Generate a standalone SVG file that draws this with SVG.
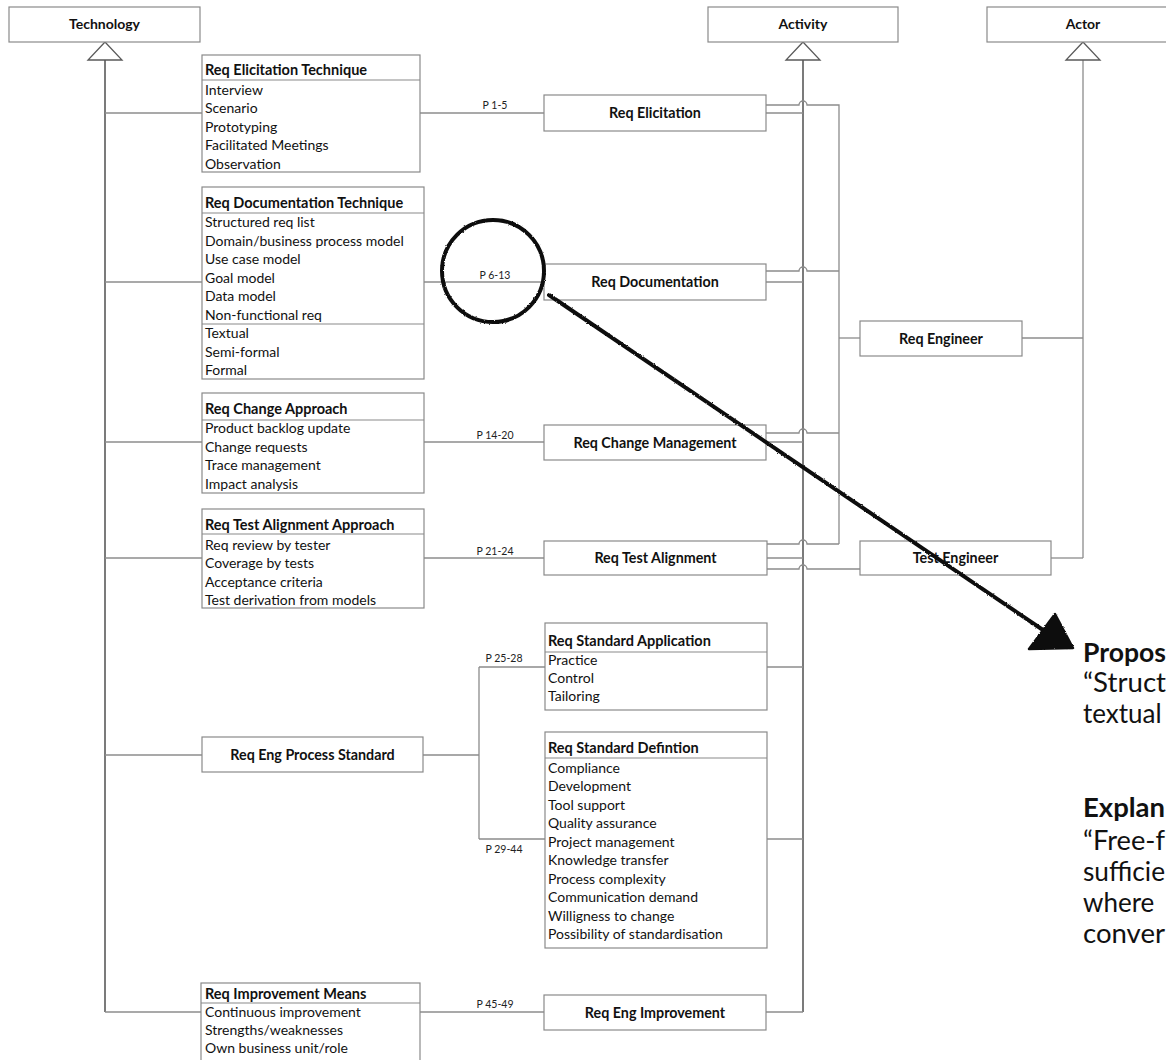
<svg xmlns="http://www.w3.org/2000/svg" width="1166" height="1060" viewBox="0 0 1166 1060">
  <style>
    .box { fill: #ffffff; stroke: #8a8a8a; stroke-width: 1.2; }
    .sep { stroke: #8a8a8a; stroke-width: 1.2; }
    .title { font-family: Lato, "Liberation Sans", sans-serif; font-weight: bold; font-size: 14px; fill: #111; text-anchor: middle; }
    .head { font-family: Lato, "Liberation Sans", sans-serif; font-weight: bold; font-size: 14.5px; fill: #111; }
    .item { font-family: Lato, "Liberation Sans", sans-serif; font-size: 14px; fill: #111; }
    .act { font-family: Lato, "Liberation Sans", sans-serif; font-weight: bold; font-size: 14.3px; fill: #111; text-anchor: middle; }
    .lbl { font-family: Lato, "Liberation Sans", sans-serif; font-size: 10.5px; fill: #222; text-anchor: middle; }
    .wire { fill: none; stroke: #8c8c8c; stroke-width: 1.3; }
    .spine { fill: none; stroke: #5a5a5a; stroke-width: 1.6; }
    .tri { fill: #ffffff; stroke: #5a5a5a; stroke-width: 1.3; }
    .ink { fill: none; stroke: #111; stroke-width: 4; stroke-linecap: round; }
    .note { font-family: Lato, "Liberation Sans", sans-serif; font-size: 26px; fill: #111; }
    .noteb { font-family: Lato, "Liberation Sans", sans-serif; font-size: 26px; font-weight: bold; fill: #111; }
  </style>

  <defs>
    <!-- slightly ragged edge for the marker-pen strokes -->
    <filter id="rough" x="-5%" y="-5%" width="110%" height="110%">
      <feTurbulence type="fractalNoise" baseFrequency="0.9" numOctaves="1" seed="3" result="noise"/>
      <feDisplacementMap in="SourceGraphic" in2="noise" scale="2.5" xChannelSelector="R" yChannelSelector="G"/>
    </filter>
  </defs>

  <rect width="1166" height="1060" fill="#ffffff"/>

  <!-- connectors -->
  <g id="connectors">
    <!-- generalisation spines -->
    <path class="spine" d="M105,60 V1012"/>
    <path class="spine" d="M803,60 V1012"/>
    <path class="wire" d="M1083,60 V558"/>

    <!-- technology branches -->
    <path class="wire" d="M105,113 H202"/>
    <path class="wire" d="M105,282 H202"/>
    <path class="wire" d="M105,442 H202"/>
    <path class="wire" d="M105,558 H202"/>
    <path class="wire" d="M105,755 H202"/>
    <path class="wire" d="M105,1012 H201"/>

    <!-- technique to activity -->
    <path class="wire" d="M420,113 H544"/>
    <path class="wire" d="M424,282 H544"/>
    <path class="wire" d="M424,442 H544"/>
    <path class="wire" d="M424,558 H544"/>
    <path class="wire" d="M420,1012 H544"/>
    <path class="wire" d="M423,755 H479 M479,667 V839 M479,667 H545 M479,839 H545"/>

    <!-- activity to spine -->
    <path class="wire" d="M766,113 H803"/>
    <path class="wire" d="M766,282 H803"/>
    <path class="wire" d="M766,442 H803"/>
    <path class="wire" d="M767,558 H803"/>
    <path class="wire" d="M767,667 H803"/>
    <path class="wire" d="M767,839 H803"/>
    <path class="wire" d="M766,1012 H803"/>

    <!-- activity to actors, hopping over the activity spine -->
    <path class="wire" d="M766,105 H799 a4,4 0 0 1 8,0 H839 V544"/>
    <path class="wire" d="M766,271 H799 a4,4 0 0 1 8,0 H839"/>
    <path class="wire" d="M766,433 H799 a4,4 0 0 1 8,0 H839"/>
    <path class="wire" d="M767,544 H799 a4,4 0 0 1 8,0 H839"/>
    <path class="wire" d="M767,569 H799 a4,4 0 0 1 8,0 H860"/>
    <path class="wire" d="M839,338 H860"/>
    <path class="wire" d="M1022,338 H1083"/>
    <path class="wire" d="M1051,558 H1083"/>

    <!-- page labels -->
    <text class="lbl" x="495" y="109">P 1-5</text>
    <text class="lbl" x="495" y="279">P 6-13</text>
    <text class="lbl" x="495" y="439">P 14-20</text>
    <text class="lbl" x="495" y="555">P 21-24</text>
    <text class="lbl" x="504" y="662">P 25-28</text>
    <text class="lbl" x="504" y="853">P 29-44</text>
    <text class="lbl" x="495" y="1008">P 45-49</text>

    <!-- triangles -->
    <polygon class="tri" points="105,42 88,60 122,60"/>
    <polygon class="tri" points="803,42 786,60 820,60"/>
    <polygon class="tri" points="1083,42 1066,60 1100,60"/>
  </g>

  <!-- top level classes -->
  <g id="technology">
    <rect class="box" x="9" y="7" width="191" height="35"/>
    <text class="title" x="104.5" y="29">Technology</text>
  </g>
  <g id="activity">
    <rect class="box" x="708" y="7" width="190" height="35"/>
    <text class="title" x="803" y="29">Activity</text>
  </g>
  <g id="actor">
    <rect class="box" x="987" y="7" width="191" height="35"/>
    <text class="title" x="1083" y="29">Actor</text>
  </g>

  <!-- technique boxes -->
  <g id="req-elicitation-technique">
    <rect class="box" x="202" y="55" width="218" height="117"/>
    <line class="sep" x1="202" y1="80" x2="420" y2="80"/>
    <text class="head" x="205" y="75">Req Elicitation Technique</text>
    <text class="item" x="205" y="94.5">Interview</text>
    <text class="item" x="205" y="113">Scenario</text>
    <text class="item" x="205" y="131.5">Prototyping</text>
    <text class="item" x="205" y="150">Facilitated Meetings</text>
    <text class="item" x="205" y="168.5">Observation</text>
  </g>

  <g id="req-documentation-technique">
    <rect class="box" x="202" y="187" width="222" height="192"/>
    <line class="sep" x1="202" y1="213" x2="424" y2="213"/>
    <line class="sep" x1="202" y1="324" x2="424" y2="324"/>
    <text class="head" x="205" y="208">Req Documentation Technique</text>
    <text class="item" x="205" y="227">Structured req list</text>
    <text class="item" x="205" y="245.5">Domain/business process model</text>
    <text class="item" x="205" y="264">Use case model</text>
    <text class="item" x="205" y="282.5">Goal model</text>
    <text class="item" x="205" y="301">Data model</text>
    <text class="item" x="205" y="319.5">Non-functional req</text>
    <text class="item" x="205" y="338">Textual</text>
    <text class="item" x="205" y="356.5">Semi-formal</text>
    <text class="item" x="205" y="375">Formal</text>
  </g>

  <g id="req-change-approach">
    <rect class="box" x="202" y="393" width="222" height="100"/>
    <line class="sep" x1="202" y1="420" x2="424" y2="420"/>
    <text class="head" x="205" y="414">Req Change Approach</text>
    <text class="item" x="205" y="433">Product backlog update</text>
    <text class="item" x="205" y="451.5">Change requests</text>
    <text class="item" x="205" y="470">Trace management</text>
    <text class="item" x="205" y="488.5">Impact analysis</text>
  </g>

  <g id="req-test-alignment-approach">
    <rect class="box" x="202" y="509" width="222" height="99"/>
    <line class="sep" x1="202" y1="534" x2="424" y2="534"/>
    <text class="head" x="205" y="530">Req Test Alignment Approach</text>
    <text class="item" x="205" y="549.5">Req review by tester</text>
    <text class="item" x="205" y="568">Coverage by tests</text>
    <text class="item" x="205" y="586.5">Acceptance criteria</text>
    <text class="item" x="205" y="604.5">Test derivation from models</text>
  </g>

  <g id="req-eng-process-standard">
    <rect class="box" x="202" y="737" width="221" height="35"/>
    <text class="act" x="312.5" y="760">Req Eng Process Standard</text>
  </g>

  <g id="req-standard-application">
    <rect class="box" x="545" y="623" width="222" height="87"/>
    <line class="sep" x1="545" y1="652" x2="767" y2="652"/>
    <text class="head" x="548" y="646">Req Standard Application</text>
    <text class="item" x="548" y="664.5">Practice</text>
    <text class="item" x="548" y="682.5">Control</text>
    <text class="item" x="548" y="700.5">Tailoring</text>
  </g>

  <g id="req-standard-defintion">
    <rect class="box" x="545" y="732" width="222" height="216"/>
    <line class="sep" x1="545" y1="758" x2="767" y2="758"/>
    <text class="head" x="548" y="753">Req Standard Defintion</text>
    <text class="item" x="548" y="772.5">Compliance</text>
    <text class="item" x="548" y="791">Development</text>
    <text class="item" x="548" y="809.5">Tool support</text>
    <text class="item" x="548" y="828">Quality assurance</text>
    <text class="item" x="548" y="846.5">Project management</text>
    <text class="item" x="548" y="865">Knowledge transfer</text>
    <text class="item" x="548" y="883.5">Process complexity</text>
    <text class="item" x="548" y="902">Communication demand</text>
    <text class="item" x="548" y="920.5">Willigness to change</text>
    <text class="item" x="548" y="939">Possibility of standardisation</text>
  </g>

  <g id="req-improvement-means">
    <rect class="box" x="201" y="983" width="219" height="90"/>
    <line class="sep" x1="201" y1="1003" x2="420" y2="1003"/>
    <text class="head" x="205" y="999">Req Improvement Means</text>
    <text class="item" x="205" y="1016.5">Continuous improvement</text>
    <text class="item" x="205" y="1034.5">Strengths/weaknesses</text>
    <text class="item" x="205" y="1052.5">Own business unit/role</text>
  </g>

  <!-- activity boxes -->
  <g id="req-elicitation">
    <rect class="box" x="544" y="95" width="222" height="36"/>
    <text class="act" x="655" y="118">Req Elicitation</text>
  </g>
  <g id="req-documentation">
    <rect class="box" x="544" y="264" width="222" height="36"/>
    <text class="act" x="655" y="287">Req Documentation</text>
  </g>
  <g id="req-change-management">
    <rect class="box" x="544" y="425" width="222" height="35"/>
    <text class="act" x="655" y="447.5">Req Change Management</text>
  </g>
  <g id="req-test-alignment">
    <rect class="box" x="544" y="541" width="223" height="34"/>
    <text class="act" x="655.5" y="563">Req Test Alignment</text>
  </g>
  <g id="req-eng-improvement">
    <rect class="box" x="544" y="995" width="222" height="35"/>
    <text class="act" x="655" y="1017.5">Req Eng Improvement</text>
  </g>

  <!-- actor boxes -->
  <g id="req-engineer">
    <rect class="box" x="860" y="321" width="162" height="35"/>
    <text class="act" x="941" y="343.5">Req Engineer</text>
  </g>
  <g id="test-engineer">
    <rect class="box" x="860" y="541" width="191" height="34"/>
    <text class="act" x="955.5" y="563">Test Engineer</text>
  </g>

  <!-- hand-drawn highlight: circle and pointer -->
  <g id="highlight" filter="url(#rough)">
    <circle class="ink" cx="493" cy="271" r="51"/>
    <path class="ink" d="M549,295 L1043,630"/>
    <polygon points="1029,649 1055,614 1073,648" fill="#111" stroke="#111" stroke-width="2.5" stroke-linejoin="round"/>
  </g>

  <!-- annotation text, running off the right edge -->
  <g id="annotation">
    <text class="noteb" x="1083" y="662" textLength="83" lengthAdjust="spacingAndGlyphs">Propos</text>
    <text class="note" x="1083" y="692" textLength="83" lengthAdjust="spacingAndGlyphs">“Struct</text>
    <text class="note" x="1083" y="723">textual</text>
    <text class="noteb" x="1083" y="817" textLength="82" lengthAdjust="spacingAndGlyphs">Explan</text>
    <text class="note" x="1083" y="850" textLength="82" lengthAdjust="spacingAndGlyphs">“Free-f</text>
    <text class="note" x="1083" y="881" textLength="82" lengthAdjust="spacingAndGlyphs">sufficie</text>
    <text class="note" x="1083" y="912">where</text>
    <text class="note" x="1083" y="943" textLength="82" lengthAdjust="spacingAndGlyphs">conver</text>
  </g>
</svg>
